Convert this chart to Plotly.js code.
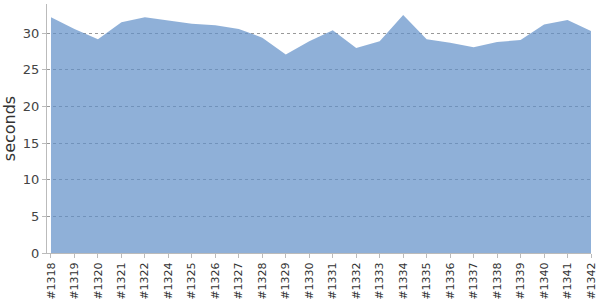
<!DOCTYPE html>
<html><head><meta charset="utf-8">
<script src="https://cdn.plot.ly/plotly-3.0.1.min.js"></script>
<style>html,body{margin:0;padding:0;background:#fff}#c{width:600px;height:300px}</style>
</head><body><div id="c"></div>
<script>
const builds = ["#1318","#1319","#1320","#1321","#1322","#1324","#1325","#1326","#1327","#1328","#1329","#1330","#1331","#1332","#1333","#1334","#1335","#1336","#1337","#1338","#1339","#1340","#1341","#1342"];
const seconds = [32.2,30.6,29.2,31.5,32.2,31.8,31.3,31.1,30.6,29.4,27.1,28.9,30.4,28.0,28.9,32.5,29.2,28.7,28.1,28.8,29.1,31.2,31.8,30.3];
const yTicks = [0,5,10,15,20,25,30];

Plotly.newPlot('c', [{
  x: builds, y: seconds, type: 'scatter', mode: 'lines',
  fill: 'tozeroy', fillcolor: 'rgba(95,142,199,0.7)',
  line: {width: 0, color: 'rgba(95,142,199,0.7)'}, hoverinfo: 'none'
}], {
  width: 600, height: 300,
  margin: {l: 47, r: 9, t: 4, b: 47},
  paper_bgcolor: '#fff', plot_bgcolor: '#fff',
  showlegend: false,
  font: {family: 'DejaVu Sans, sans-serif', color: '#444'},
  xaxis: {
    type: 'category', range: [-0.17, 23], tickangle: -90,
    tickfont: {size: 11, color: '#333'},
    showgrid: false, zeroline: false,
    showline: true, linecolor: '#bbb', linewidth: 1,
    ticks: 'outside', ticklen: 4, tickcolor: '#bbb'
  },
  yaxis: {
    range: [0, 34], tickvals: yTicks,
    tickfont: {size: 13, color: '#444'},
    title: {text: 'seconds', font: {size: 16, color: '#333'}, standoff: 4},
    showgrid: true, gridcolor: '#999', griddash: 'dot', gridwidth: 1,
    zeroline: false,
    showline: true, linecolor: '#bbb', linewidth: 1,
    ticks: 'outside', ticklen: 4, tickcolor: '#bbb'
  }
}, {staticPlot: true});
</script></body></html>
